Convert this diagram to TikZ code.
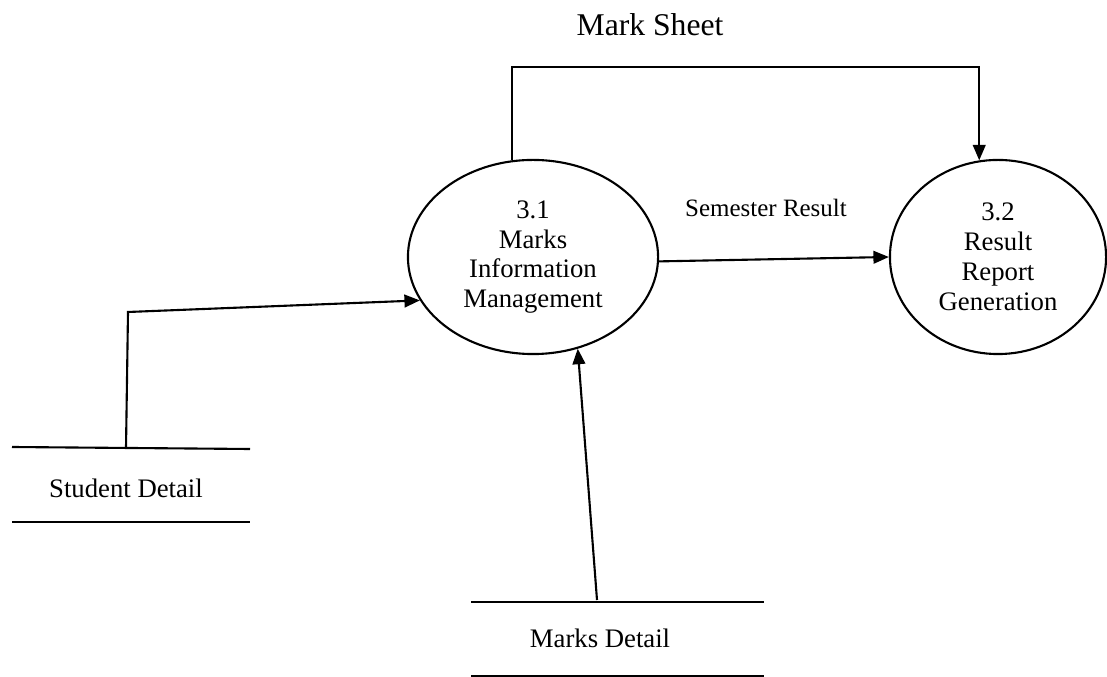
\documentclass[tikz,border=0pt]{standalone}
\usepackage{fontspec}
\setmainfont{Liberation Serif}
\usetikzlibrary{shapes.geometric,arrows.meta}
\begin{document}
\begin{tikzpicture}[x=0.01cm,y=-0.01cm,
  line width=0.6pt,
  arr/.style={-{Triangle[length=4.4pt,width=3.6pt]}},
  proc/.style={draw,ellipse,inner sep=0pt,align=center,
    font=\fontsize{7.6pt}{8.5pt}\selectfont},
  lbl/.style={inner sep=0pt,font=\fontsize{7.6pt}{8.5pt}\selectfont}]
\useasboundingbox (0,0) rectangle (1107,677);
% processes
\node[proc,minimum width=2.5cm,minimum height=1.94cm] (m1) at (533,257)
  {3.1\\Marks\\Information\\Management};
\node[proc,minimum width=2.16cm,minimum height=1.94cm] (m2) at (998,257)
  {3.2\\Result\\Report\\Generation};
% data stores
\node[lbl] (sd) at (126,488) {Student Detail};
\draw (12,447) -- (250,449);
\draw (12,522) -- (250,522);
\node[lbl] (md) at (600,638) {Marks Detail};
\draw (471,602) -- (764,602);
\draw (471,676) -- (764,676);
% labels
\node[inner sep=0pt,font=\fontsize{9pt}{10pt}\selectfont] (mslbl) at (650,25) {Mark Sheet};
\node[inner sep=0pt,font=\fontsize{7.1pt}{8pt}\selectfont] (srlbl) at (766,208) {Semester Result};
% connectors
\coordinate (msc) at (512,67);
\draw[arr] (m1.102) -- (m1.102 |- msc) -| (m2.101);
\draw[arr] (m1.-2) -- (m2.west);
\coordinate (sdtop) at (126,448);
\coordinate (sdbend) at (128,312);
\draw[arr] (sdtop) -- (sdbend) -- (m1.201);
\coordinate (mdtop) at (597,600);
\draw[arr] (mdtop) -- (m1.-64);
\end{tikzpicture}
\end{document}
